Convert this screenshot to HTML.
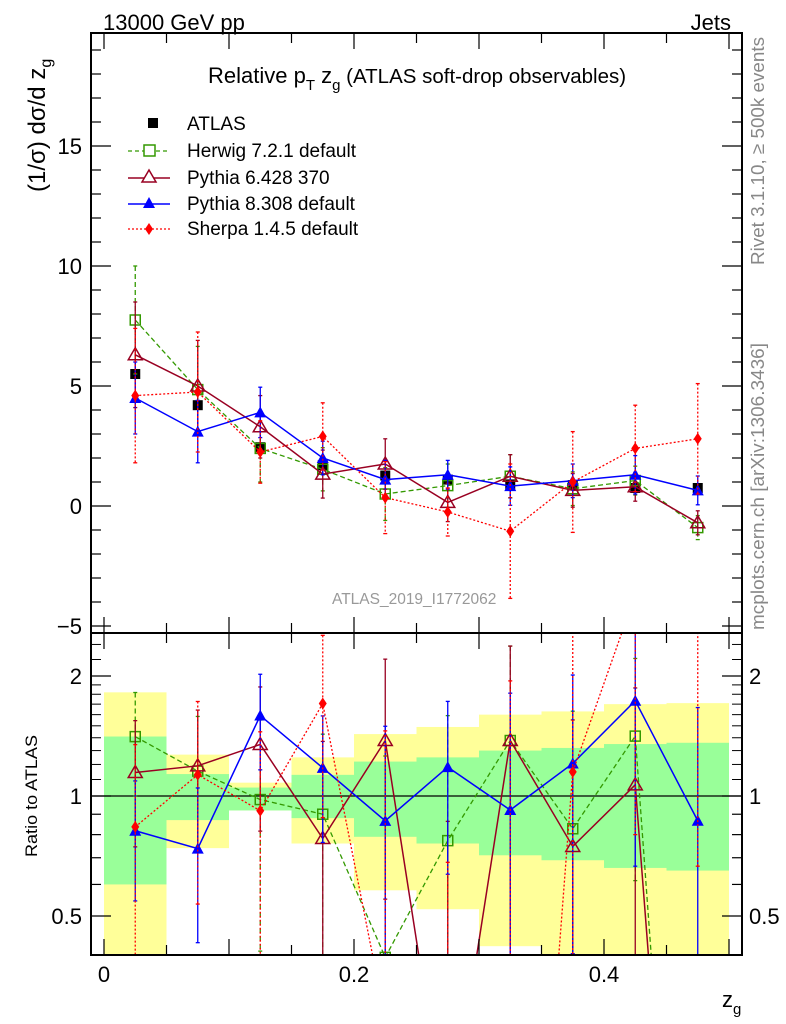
<!DOCTYPE html>
<html><head><meta charset="utf-8"><style>
html,body{margin:0;background:#fff;width:786px;height:1024px;overflow:hidden;position:relative;}
svg{display:block;font-family:"Liberation Sans",sans-serif;}
</style></head><body>
<svg id="c" width="786" height="1024" viewBox="0 0 786 1024" style="position:absolute;left:0;top:0"></svg>
<script>
const categories=[0.025,0.075,0.125,0.175,0.225,0.275,0.325,0.375,0.425,0.475];
const atlasVals=[5.5,4.2,2.45,1.7,1.27,1.1,0.9,0.87,0.75,0.75];
const atlasErr=[0.2,0.2,0.15,0.12,0.12,0.1,0.1,0.1,0.1,0.1];
const herwigVals=[7.75,4.85,2.4,1.53,0.5,0.85,1.24,0.72,1.06,-0.9];
const herwigErr=[2.25,1.8,1.4,0.9,1.1,0.9,0.9,0.7,0.6,0.5];
const py6Vals=[6.3,5.0,3.3,1.33,1.75,0.15,1.24,0.65,0.8,-0.7];
const py6Err=[2.2,1.9,1.3,1.0,1.05,0.8,0.9,0.7,0.6,0.5];
const py8Vals=[4.5,3.1,3.9,2.0,1.1,1.3,0.83,1.05,1.3,0.65];
const py8Err=[1.5,1.3,1.05,0.7,0.8,0.6,0.8,0.7,0.8,0.6];
const sherpaVals=[4.6,4.75,2.25,2.9,0.35,-0.25,-1.05,1.0,2.4,2.8];
const sherpaErr=[2.8,2.5,1.3,1.4,1.5,1.0,2.8,2.1,1.8,2.3];
const statLo=[0.6,0.87,0.92,0.88,0.79,0.76,0.71,0.69,0.66,0.65];
const statHi=[1.41,1.135,1.05,1.13,1.22,1.25,1.30,1.32,1.35,1.36];
const totLo=[0.3,0.74,0.92,0.76,0.58,0.52,0.42,0.3,0.3,0.3];
const totHi=[1.82,1.27,1.08,1.25,1.43,1.49,1.6,1.63,1.70,1.71];
const binEdges=[0,0.05,0.1,0.15,0.2,0.25,0.3,0.35,0.4,0.45,0.5];
const yTicks=[-5,0,5,10,15];
const rTicks=[0.5,1,2];
const xTicks=[0,0.2,0.4];

const L=91,R=742,T=33,MB=633,RB=955;
const X=v=>104+v*1250;
const Y=v=>506-v*24;
const RY=v=>796-Math.log10(Math.max(v,0.01))*398.6;
const NS="http://www.w3.org/2000/svg";
const svg=document.getElementById('c');
function mk(t,a,p){const e=document.createElementNS(NS,t);for(const k in a)e.setAttribute(k,a[k]);(p||svg).appendChild(e);return e;}
const defs=mk('defs',{});
const cp1=mk('clipPath',{id:'cm'},defs);mk('rect',{x:L,y:T,width:R-L,height:MB-T},cp1);
const cp2=mk('clipPath',{id:'cr'},defs);mk('rect',{x:L,y:MB,width:R-L,height:RB-MB},cp2);

const gBand=mk('g',{'clip-path':'url(#cr)'});


for(let i=0;i<categories.length;i++){
 const x0=X(binEdges[i]),x1=X(binEdges[i+1]);
 const y1=mk('rect',{x:x0,y:RY(totHi[i]),width:x1-x0,height:RY(totLo[i])-RY(totHi[i]),fill:'#ffff99'},gBand);
 
 
 const g1=mk('rect',{x:x0,y:RY(statHi[i]),width:x1-x0,height:RY(statLo[i])-RY(statHi[i]),fill:'#99ff99'},gBand);
 
 
}
mk('line',{x1:L,x2:R,y1:RY(1),y2:RY(1),stroke:'#000','stroke-width':1.2});

function marker(p,kind,x,y,col){
 if(kind==='sq')return mk('rect',{x:x-5,y:y-5,width:10,height:10,fill:'#000'},p);
 if(kind==='osq')return mk('rect',{x:x-5,y:y-5,width:10,height:10,fill:'none',stroke:col,'stroke-width':1.5},p);
 if(kind==='otri')return mk('polygon',{points:`${x},${y-7} ${x-7},${y+5} ${x+7},${y+5}`,fill:'none',stroke:col,'stroke-width':1.5},p);
 if(kind==='tri')return mk('polygon',{points:`${x},${y-6} ${x-6},${y+5} ${x+6},${y+5}`,fill:col},p);
 if(kind==='dia')return mk('polygon',{points:`${x},${y-6} ${x+4},${y} ${x},${y+6} ${x-4},${y}`,fill:col},p);
}
const series=[
 {name:'herwig',vals:herwigVals,err:herwigErr,col:'#339900',dash:'5,3',m:'osq',w:1.3},
 {name:'pythia6',vals:py6Vals,err:py6Err,col:'#990022',dash:'',m:'otri',w:1.5},
 {name:'pythia8',vals:py8Vals,err:py8Err,col:'#0000ff',dash:'',m:'tri',w:1.5},
 {name:'sherpa',vals:sherpaVals,err:sherpaErr,col:'#ff0000',dash:'2,2',m:'dia',w:1.3}
];
function drawSeries(s,ratio){
 const g=mk('g',{'clip-path':ratio?'url(#cr)':'url(#cm)'});
 
 
 const fy=ratio?(i=>RY(s.vals[i]/atlasVals[i])):(i=>Y(s.vals[i]));
 const fe=ratio?((i,d)=>RY((s.vals[i]+d*s.err[i])/atlasVals[i])):((i,d)=>Y(s.vals[i]+d*s.err[i]));
 for(let i=0;i<categories.length;i++){
  const x=X(categories[i]);
  mk('line',{x1:x,x2:x,y1:fe(i,1),y2:fe(i,-1),stroke:s.col,'stroke-width':1.3,'stroke-dasharray':s.dash},g);
  mk('line',{x1:x-2,x2:x+2,y1:fe(i,1),y2:fe(i,1),stroke:s.col,'stroke-width':1.3},g);
  mk('line',{x1:x-2,x2:x+2,y1:fe(i,-1),y2:fe(i,-1),stroke:s.col,'stroke-width':1.3},g);
 }
 const pts=categories.map((c,i)=>X(c)+','+fy(i)).join(' ');
 mk('polyline',{points:pts,fill:'none',stroke:s.col,'stroke-width':s.w,'stroke-dasharray':s.dash},g);
 for(let i=0;i<categories.length;i++){
  const m=marker(g,s.m,X(categories[i]),fy(i),s.col);
  
  
 }
}
const ga=mk('g',{'clip-path':'url(#cm)'});


for(let i=0;i<categories.length;i++){
 const x=X(categories[i]);
 mk('line',{x1:x,x2:x,y1:Y(atlasVals[i]+atlasErr[i]),y2:Y(atlasVals[i]-atlasErr[i]),stroke:'#000','stroke-width':1.3},ga);
 const m=marker(ga,'sq',x,Y(atlasVals[i]),'#000');
 
 
}
series.forEach(s=>drawSeries(s,false));
series.forEach(s=>drawSeries(s,true));

mk('rect',{x:L,y:T,width:R-L,height:MB-T,fill:'none',stroke:'#000','stroke-width':2});
mk('rect',{x:L,y:MB,width:R-L,height:RB-MB,fill:'none',stroke:'#000','stroke-width':2});
for(let v=-5;v<=19;v++){
 const y=Y(v),len=(v%5===0)?20:10;
 mk('line',{x1:L,x2:L+len,y1:y,y2:y,stroke:'#000','stroke-width':1.2});
 mk('line',{x1:R,x2:R-len,y1:y,y2:y,stroke:'#000','stroke-width':1.2});
}
yTicks.forEach(v=>{const t=mk('text',{x:82,y:Y(v)+8,'text-anchor':'end','font-size':22});t.textContent=v<0?'\u2212'+(-v):v;
 });
[0.4,0.5,0.6,0.7,0.8,0.9,1,2].forEach(v=>{
 const y=RY(v),len=(v===0.5||v===1||v===2)?20:10;
 mk('line',{x1:L,x2:L+len,y1:y,y2:y,stroke:'#000','stroke-width':1.2});
 mk('line',{x1:R,x2:R-len,y1:y,y2:y,stroke:'#000','stroke-width':1.2});
});
[1.1,1.2,1.3,1.4,1.5,1.6,1.7,1.8,1.9,2.2,2.4].forEach(v=>{const y=RY(v);
 mk('line',{x1:L,x2:L+10,y1:y,y2:y,stroke:'#000','stroke-width':1});mk('line',{x1:R,x2:R-10,y1:y,y2:y,stroke:'#000','stroke-width':1});});
rTicks.forEach(v=>{
 const a=mk('text',{x:82,y:RY(v)+8,'text-anchor':'end','font-size':22});a.textContent=v;
 
 const b=mk('text',{x:749,y:RY(v)+8,'font-size':22});b.textContent=v;
 
});
for(let k=0;k<=10;k++){
 const x=X(k*0.05),len=(k%2===0)?16:10;
 [MB,RB].forEach(yb=>mk('line',{x1:x,x2:x,y1:yb,y2:yb-len,stroke:'#000','stroke-width':1.2}));
 [T,MB].forEach(yt=>mk('line',{x1:x,x2:x,y1:yt,y2:yt+len,stroke:'#000','stroke-width':1.2}));
}
xTicks.forEach(v=>{const t=mk('text',{x:X(v),y:982,'text-anchor':'middle','font-size':22});t.textContent=v;
 });
</script>
<svg width="786" height="1024" style="position:absolute;left:0;top:0">
<text x="103" y="30" font-size="22" font-family="Liberation Sans,sans-serif">13000 GeV pp</text>
<text x="731" y="30" font-size="22" text-anchor="end" font-family="Liberation Sans,sans-serif">Jets</text>
<text x="208" y="83" font-size="22" font-family="Liberation Sans,sans-serif">Relative p<tspan font-size="15" dy="7">T</tspan><tspan dy="-7"> z</tspan><tspan font-size="15" dy="7">g</tspan><tspan dy="-7" font-size="20.5"> (ATLAS soft-drop observables)</tspan></text>
<text transform="translate(45,192) rotate(-90)" font-size="24" font-family="Liberation Sans,sans-serif">(1/σ) dσ/d z<tspan font-size="16" dy="6">g</tspan></text>
<text transform="translate(37,857) rotate(-90)" font-size="17" textLength="122" lengthAdjust="spacingAndGlyphs" font-family="Liberation Sans,sans-serif">Ratio to ATLAS</text>
<text x="722" y="1007" font-size="22" font-family="Liberation Sans,sans-serif">z<tspan font-size="15" dy="7">g</tspan></text>
<text transform="translate(764,265) rotate(-90)" font-size="18.5" textLength="228" lengthAdjust="spacingAndGlyphs" fill="#888" font-family="Liberation Sans,sans-serif">Rivet 3.1.10, ≥ 500k events</text>
<text transform="translate(764,630) rotate(-90)" font-size="18.5" textLength="287" lengthAdjust="spacingAndGlyphs" fill="#888" font-family="Liberation Sans,sans-serif">mcplots.cern.ch [arXiv:1306.3436]</text>
<text x="332" y="604" font-size="15.5" fill="#999" font-family="Liberation Sans,sans-serif">ATLAS_2019_I1772062</text>
<g font-family="Liberation Sans,sans-serif" font-size="19">
 <rect x="148" y="118" width="10" height="10" fill="#000"/>
 <text x="187" y="130">ATLAS</text>
 <line x1="128" x2="170" y1="151" y2="151" stroke="#339900" stroke-width="1.3" stroke-dasharray="4,3"/>
 <rect x="144" y="145" width="11" height="11" fill="#fff" stroke="#339900" stroke-width="1.5"/>
 <text x="187" y="157">Herwig 7.2.1 default</text>
 <line x1="128" x2="170" y1="178" y2="178" stroke="#990022" stroke-width="1.5"/>
 <polygon points="149,170 142,182 156,182" fill="#fff" stroke="#990022" stroke-width="1.5"/>
 <text x="187" y="184">Pythia 6.428 370</text>
 <line x1="128" x2="170" y1="204" y2="204" stroke="#0000ff" stroke-width="1.5"/>
 <polygon points="149,197 143,208 155,208" fill="#0000ff"/>
 <text x="187" y="210">Pythia 8.308 default</text>
 <line x1="128" x2="170" y1="229" y2="229" stroke="#ff0000" stroke-width="1.3" stroke-dasharray="2,2"/>
 <polygon points="149,223 153,229 149,235 145,229" fill="#ff0000"/>
 <text x="187" y="235">Sherpa 1.4.5 default</text>
</g>
</svg>
</body></html>
